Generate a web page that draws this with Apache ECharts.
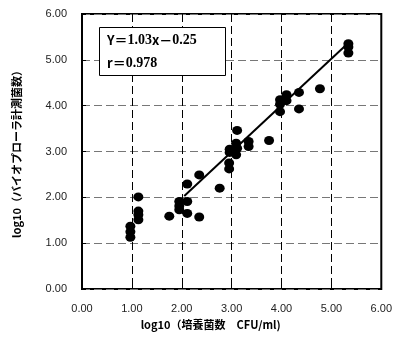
<!DOCTYPE html>
<html>
<head>
<meta charset="utf-8">
<script src="https://cdn.jsdelivr.net/npm/echarts@6/dist/echarts.min.js"></script>
<style>
  html, body { margin: 0; padding: 0; background: #fff; }
  #main { width: 395px; height: 343px; }
</style>
</head>
<body>
<div id="main"></div>
<script>
// 測定点 [log10(培養菌数), log10(バイオプローラ計測菌数)]
var points = [
  [0.97, 1.37], [0.97, 1.25], [0.97, 1.13],
  [1.13, 2.01], [1.13, 1.70], [1.13, 1.62], [1.13, 1.51],
  [1.75, 1.59],
  [1.95, 1.91], [1.95, 1.81], [1.95, 1.73],
  [2.11, 1.91], [2.11, 1.65], [2.11, 2.29],
  [2.35, 2.49], [2.35, 1.57],
  [2.76, 2.20],
  [2.96, 3.05], [2.96, 2.98], [2.95, 2.75], [2.95, 2.62],
  [3.11, 3.46], [3.09, 3.18], [3.11, 3.07], [3.09, 2.93],
  [3.34, 3.22], [3.34, 3.11],
  [3.75, 3.24],
  [3.97, 4.13], [3.97, 4.03], [3.97, 3.87],
  [4.10, 4.24], [4.10, 4.11],
  [4.35, 4.29], [4.35, 3.93],
  [4.77, 4.37],
  [5.34, 5.35], [5.34, 5.28], [5.34, 5.15]
];
// 回帰直線の両端
var fitLine = [[2.05, 2.03], [5.30, 5.33]];
var axisTicks = [0, 1, 2, 3, 4, 5, 6];
var slope = '1.03', intercept = '0.25', rValue = '0.978';

var chart = echarts.init(document.getElementById('main'));

var lblStyle = {
  color: '#222',
  fontSize: 11,
  fontFamily: 'Liberation Sans, Arial, sans-serif',
  formatter: function (v) { return v.toFixed(2); }
};

var boxRich = {
  s: { fontFamily: 'Noto Sans CJK JP', fontWeight: 'bold', fontSize: 13, fill: '#000' },
  n: { fontFamily: 'Liberation Serif', fontWeight: 'bold', fontSize: 14, fill: '#000' }
};

chart.setOption({
  backgroundColor: '#fff',
  animation: false,
  grid: {
    left: 82, right: 11, top: 14, bottom: 54,
    show: true,
    borderColor: '#000',
    borderWidth: 2,
    backgroundColor: 'transparent'
  },
  xAxis: {
    type: 'value',
    min: axisTicks[0], max: axisTicks[axisTicks.length - 1], interval: 1,
    name: 'log10（培養菌数　CFU/ml)',
    nameLocation: 'middle',
    nameGap: 29,
    nameTextStyle: {
      fontFamily: 'Noto Sans CJK JP', fontWeight: 'bold', fontSize: 11, color: '#000',
      padding: [0, 42, 0, 0]
    },
    axisLine: { show: false },
    axisTick: { inside: true, length: 4, lineStyle: { color: '#000' } },
    axisLabel: Object.assign({ margin: 14 }, lblStyle),
    splitLine: { show: true, lineStyle: { color: '#000', type: [8, 4], width: 1 } }
  },
  yAxis: {
    type: 'value',
    min: axisTicks[0], max: axisTicks[axisTicks.length - 1], interval: 1,
    name: 'log10（バイオプローラ計測菌数）',
    nameLocation: 'middle',
    nameGap: 60,
    nameTextStyle: {
      fontFamily: 'Noto Sans CJK JP', fontWeight: 'bold', fontSize: 11, color: '#000'
    },
    axisLine: { show: false },
    axisTick: { inside: true, length: 4, lineStyle: { color: '#000' } },
    axisLabel: Object.assign({ margin: 15 }, lblStyle),
    splitLine: { show: true, lineStyle: { color: '#777', type: [8, 4], width: 1 } }
  },
  graphic: [{
    type: 'rect',
    left: 99, top: 27,
    shape: { width: 126, height: 48 },
    style: { fill: '#fff', stroke: '#000', lineWidth: 1 },
    z: 100
  }, {
    type: 'text',
    left: 107, top: 33,
    style: {
      text: '{s|Y＝}{n|' + slope + '}{s|x－}{n|' + intercept + '}',
      rich: boxRich
    },
    z: 101
  }, {
    type: 'text',
    left: 107, top: 56,
    style: {
      text: '{s|r＝}{n|' + rValue + '}',
      rich: boxRich
    },
    z: 101
  }],
  series: [{
    type: 'scatter',
    data: points,
    symbol: 'circle',
    symbolSize: [10, 9],
    itemStyle: { color: '#000', opacity: 1 },
    z: 3
  }, {
    type: 'line',
    data: fitLine,
    symbol: 'none',
    lineStyle: { color: '#000', width: 2 },
    z: 4
  }]
});
</script>
</body>
</html>
